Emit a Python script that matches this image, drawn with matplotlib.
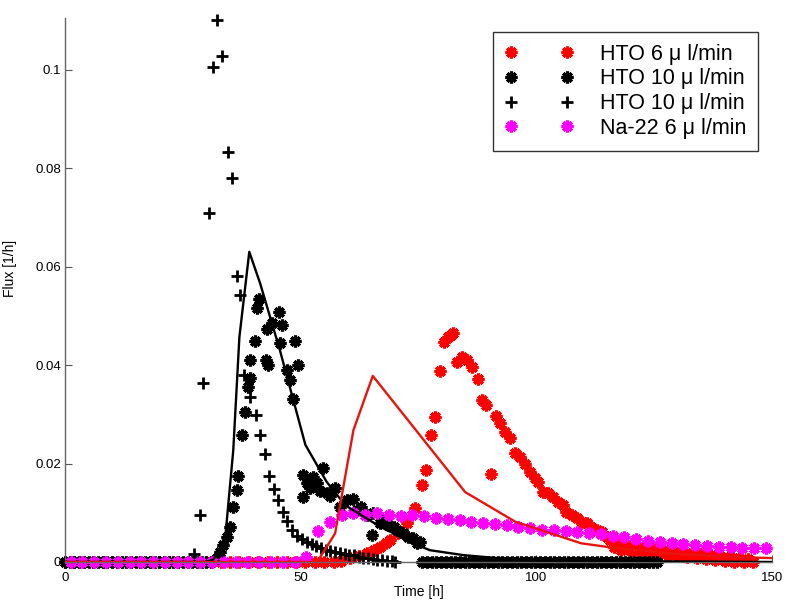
import matplotlib
matplotlib.use("Agg")
import matplotlib.pyplot as plt

plt.rcParams['font.family'] = ['Liberation Sans', 'DejaVu Sans']

# ---------------- data ----------------
# HTO 6 ul/min (red asterisks)
red_x = [31, 33, 35, 37, 39, 41, 43, 45, 47, 49, 51, 53, 55, 57,
         58.5, 60.5, 62.3, 64, 65.5, 66.8, 68, 69, 70.7, 72.5, 74.3, 75.7, 76.5,
         77.6, 78.5, 79.6, 80.5, 81.3, 81.9, 82.4, 83.1, 84.2, 85.2, 86.3, 87.7,
         88.4, 89.3, 90.3, 91.4, 92.3, 93.4, 94.4, 95.5, 96.5, 97.6, 98.7, 99.7,
         100.4, 101.5, 102.5, 103.6, 104.7, 105.6, 106.4, 107.5, 108.6, 109.6,
         110.7, 111.7, 112.8, 113.9, 114.9,
         115.7, 116.4, 117.2, 118, 119, 120, 121, 122, 123, 124, 125, 126, 127,
         128, 129, 130, 131, 132, 133, 134, 135, 136, 137, 138, 139, 140, 141,
         142, 143, 144, 145, 146]
red_y = [0, 0, 0, 0, 0, 0, 0, 0, 0, 0, 0, 0, 0, 0,
         0.0003, 0.0008, 0.0012, 0.0018, 0.0025, 0.0031, 0.0038, 0.0045, 0.0058,
         0.0079, 0.0109, 0.0156, 0.0187, 0.0258, 0.0295, 0.0388, 0.0446, 0.0458,
         0.0462, 0.0466, 0.0407, 0.0417, 0.0410, 0.0397, 0.0372, 0.0329, 0.0319,
         0.0179, 0.0296, 0.0282, 0.0265, 0.0251, 0.0221, 0.0214, 0.0199, 0.0183,
         0.0170, 0.0163, 0.0143, 0.0140, 0.0133, 0.0122, 0.0116, 0.0102, 0.0095,
         0.0089, 0.0082, 0.0079, 0.0072, 0.0065, 0.0060, 0.0051,
         0.0045, 0.0030, 0.0038, 0.0025, 0.0034, 0.0022, 0.0032, 0.0020, 0.0030,
         0.0018, 0.0028, 0.0016, 0.0025, 0.0014, 0.0023, 0.0012, 0.0020, 0.0010,
         0.0018, 0.0008, 0.0016, 0.0006, 0.0014, 0.0004, 0.0012, 0.0002, 0.0010,
         0.0001, 0.0008, 0.0001, 0.0006, 0.0001]

# HTO 10 ul/min (black asterisks)
blk_x = [0, 1, 2, 3, 4, 5, 6, 7, 8, 9, 10, 11, 12, 13, 14, 15, 16, 17, 18, 19,
         20, 21, 22, 23, 24, 25, 26, 27, 28, 29, 30, 31,
         32.2, 32.9, 33.6, 34.3, 35.0, 35.7, 36.4, 36.8, 37.5, 38.2, 38.9, 39.2,
         39.3, 40.3, 40.7, 41.2, 42.6, 42.8, 43.1, 43.9, 45.3, 45.6, 46.0, 47.0,
         47.7, 48.4, 48.8, 49.5, 50.6, 50.6, 51.3, 52.0, 52.7, 53.4, 54.1, 54.8,
         55.5, 56.2, 57.3, 58.3, 59.8, 61.2, 62.0, 62.9, 64.0, 65.1, 65.4, 66.8,
         67.5, 68.5, 69.7, 70.4, 71.8, 72.8, 73.9, 74.6, 75.3,
         75.8, 76.8, 77.8, 78.8, 79.8, 80.8, 81.8, 82.8, 83.8, 84.8, 85.8, 86.8,
         87.8, 88.8, 89.8, 90.8, 91.8, 92.8, 93.8, 94.8, 95.8, 96.8, 97.8, 98.8,
         99.8, 100.8, 101.8, 102.8, 103.8, 104.8, 105.8, 106.8, 107.8, 108.8,
         109.8, 110.8, 111.8, 112.8, 113.8, 114.8, 115.8, 116.8, 117.8, 118.8,
         119.8, 120.8, 121.8, 122.8, 123.8, 124.8, 125.5]
blk_y = [0] * 32 + [
         0.0008, 0.0021, 0.0035, 0.0051, 0.0072, 0.0112, 0.0146, 0.0175, 0.0258,
         0.0305, 0.0356, 0.0373, 0.0410, 0.0449, 0.0515, 0.0535, 0.0410, 0.0474,
         0.0400, 0.0485, 0.0508, 0.0444, 0.0481, 0.0390, 0.0370, 0.0332, 0.0449,
         0.0400, 0.0177, 0.0133, 0.0160, 0.0150, 0.0173, 0.0160, 0.0145, 0.0190,
         0.0140, 0.0135, 0.0150, 0.0112, 0.0126, 0.0128, 0.0105, 0.0112, 0.0095,
         0.0055, 0.0099, 0.0080, 0.0085, 0.0075, 0.0072, 0.0065, 0.0058, 0.0050,
         0.0048, 0.0038, 0.0041] + [0] * 51

# HTO 10 ul/min (black plus)
plus_x = [0, 2, 4, 6, 8, 10, 12, 14, 16, 18, 20, 22, 24, 26,
          27.3, 28.6, 29.3, 30.5, 31.4, 32.3, 33.3, 34.5, 35.4, 36.4, 37.1, 37.9,
          39.3, 40.6, 41.3, 42.4, 43.2, 44.4, 45.2, 46.3, 47.1, 48.2, 49.2, 50.2,
          51.3, 52.3, 53.3, 54.3, 55.3, 56.3, 57.3, 58.3, 59.3, 60.3, 61.3, 62.3,
          63.3, 64.3, 65.3, 66.3, 67.3, 68.3, 69.3, 70.0]
plus_y = [0] * 14 + [
          0.0016, 0.0095, 0.0363, 0.0709, 0.1006, 0.1100, 0.1027, 0.0832, 0.0780,
          0.0580, 0.0542, 0.0380, 0.0336, 0.0298, 0.0258, 0.0219, 0.0175, 0.0148,
          0.0126, 0.0102, 0.0084, 0.0066, 0.0052, 0.0046, 0.0041, 0.0036, 0.0032,
          0.0028, 0.0025, 0.0022, 0.0020, 0.0018, 0.0016, 0.0015, 0.0014, 0.0011,
          0.0009, 0.0008, 0.0006, 0.0005, 0.0004, 0.0003, 0.0002, 0.0001]

# Na-22 6 ul/min (magenta asterisks)
mag_x = [1.2, 3.7, 6.2, 8.7, 11.2, 13.7, 16.2, 18.7, 21.2, 23.7, 26.2, 28.7,
         31.2, 33.7, 36.2, 38.7, 41.2, 43.7, 46.2, 48.7, 51.2, 53.7, 56.2, 58.7,
         61.2, 63.7, 66.2, 68.7, 71.2, 73.7, 76.2, 78.7, 81.2, 83.7, 86.2, 88.7,
         91.2, 93.7, 96.2, 98.7, 101.2, 103.7, 106.2, 108.7, 111.2, 113.7, 116.2,
         118.7, 121.2, 123.7, 126.2, 128.7, 131.2, 133.7, 136.2, 138.7, 141.2,
         143.7, 146.2, 148.7]
mag_y = [0] * 20 + [
         0.0010, 0.0062, 0.0082, 0.0095, 0.0099, 0.0096, 0.0099, 0.0095, 0.0093,
         0.0095, 0.0093, 0.0090, 0.0088, 0.0085, 0.0082, 0.0080, 0.0077, 0.0075,
         0.0072, 0.0070, 0.0066, 0.0064, 0.0062, 0.0060, 0.0058, 0.0056, 0.0053,
         0.0050, 0.0046, 0.0043, 0.0041, 0.0039, 0.0037, 0.0035, 0.0032, 0.0031,
         0.0030, 0.0029, 0.0028, 0.0028]

# model curves
model10_x = [0, 30, 31.5, 34, 35.7, 37, 39.1, 41.4, 45.6, 51, 55.5, 59.5, 66.8,
             73.9, 77.4, 84.5, 91.6, 100, 150]
model10_y = [0, 0, 0.0005, 0.005, 0.0227, 0.0457, 0.0630, 0.0566, 0.0430,
             0.0238, 0.0163, 0.0115, 0.0072, 0.0038, 0.0024, 0.0014, 0.0008,
             0.0003, 0]
model6_x = [0, 53.5, 57.3, 61.2, 65.3, 84.9, 95.5, 109.5, 116.3, 127.7, 141.8, 150]
model6_y = [0, 0, 0.0058, 0.0268, 0.0378, 0.0142, 0.0082, 0.0038, 0.0029,
            0.0018, 0.0010, 0.0008]

labels = ['HTO 6 \u03bc l/min', 'HTO 10 \u03bc l/min', 'HTO 10 \u03bc l/min',
          'Na-22 6 \u03bc l/min']
x_ticks = [0, 50, 100, 150]
y_ticks = [0, 0.02, 0.04, 0.06, 0.08, 0.1]
y_ticklabels = ['0', '0.02', '0.04', '0.06', '0.08', '0.1']

# ---------------- figure ----------------
fig = plt.figure(figsize=(7.85, 6.05), dpi=100)
ax = fig.add_axes([65 / 785, 1 - 562 / 605, 707 / 785, 544 / 605])

ast = (8, 2, 0)
ms_ast = 8.5
mew_ast = 2.3
h1, = ax.plot(red_x, red_y, ls='none', marker=ast, ms=ms_ast, mew=mew_ast,
              color='#ff0000', clip_on=False, zorder=2.0)
h2, = ax.plot(blk_x, blk_y, ls='none', marker=ast, ms=ms_ast, mew=mew_ast,
              color='black', clip_on=False, zorder=2.1)
h3, = ax.plot(plus_x, plus_y, ls='none', marker='+', ms=9, mew=2.0,
              color='black', clip_on=False, zorder=2.2)
h4, = ax.plot(mag_x, mag_y, ls='none', marker=ast, ms=ms_ast, mew=mew_ast,
              color='#ff00ff', clip_on=False, zorder=2.3)
ax.plot(model10_x, model10_y, color='black', lw=1.7, zorder=3)
ax.plot(model6_x, model6_y, color='#e8140f', lw=1.7, zorder=3)

ax.set_xlim(0, 150)
ax.set_ylim(0, 0.1105)
ax.set_xticks(x_ticks)
ax.set_xticklabels([str(t) for t in x_ticks])
ax.set_yticks(y_ticks)
ax.set_yticklabels(y_ticklabels)
ax.tick_params(direction='in', length=5, width=0.8, labelsize=9.5,
               colors='#555555', labelcolor='black')
ax.tick_params(axis='x', pad=7)
ax.tick_params(axis='y', pad=3)
for s in ['top', 'right']:
    ax.spines[s].set_visible(False)
for s in ['left', 'bottom']:
    ax.spines[s].set_color('#666666')
    ax.spines[s].set_linewidth(1.0)

ax.set_xlabel('Time [h]', fontsize=10)
ax.set_ylabel('Flux [1/h]', fontsize=10)
ax.yaxis.set_label_coords(-0.068, 0.54)
ax.xaxis.set_label_coords(0.5, -0.043)

leg = ax.legend([h1, h2, h3, h4], labels, loc='upper left',
                bbox_to_anchor=(493 / 785, 1 - 32 / 605),
                bbox_transform=fig.transFigure, borderaxespad=0,
                numpoints=2, fontsize=15.5, handlelength=3.2, handletextpad=1.2,
                borderpad=0.55, labelspacing=0.17, fancybox=False,
                framealpha=1, edgecolor='#333333')
leg.get_frame().set_linewidth(1.0)

fig.savefig('out.png', dpi=100)
